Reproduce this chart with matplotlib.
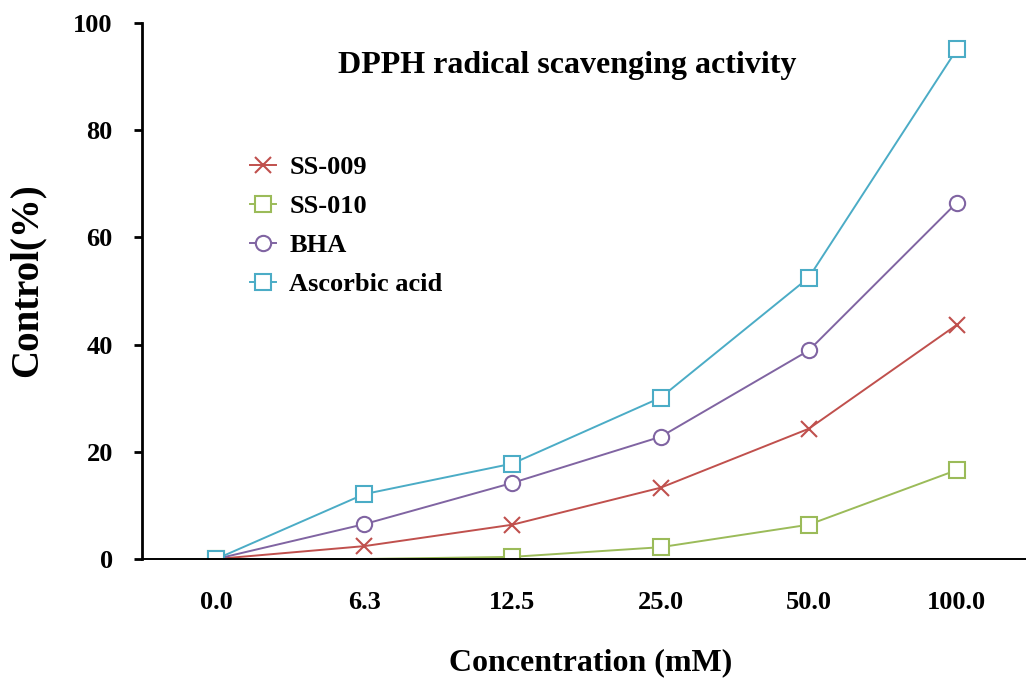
import numpy as np
import matplotlib
matplotlib.use("Agg")
import matplotlib.pyplot as plt

# data
conc_labels = ["0.0", "6.3", "12.5", "25.0", "50.0", "100.0"]
ss009 = [0, 2.4, 6.4, 13.3, 24.3, 43.7]
ss010 = [0, 0, 0.4, 2.2, 6.4, 16.6]
bha = [0, 6.5, 14.2, 22.8, 38.9, 66.5]
ascorbic = [0, 12.1, 17.8, 30.1, 52.5, 95.1]

plt.rcParams['font.family'] = ['Liberation Serif', 'DejaVu Serif']
plt.rcParams['font.weight'] = 'bold'

W, H = 1026, 679
fig = plt.figure(figsize=(W / 100, H / 100), dpi=100)
ax = fig.add_axes([142 / W, 1 - 559 / H, (1031 - 142) / W, (559 - 23) / H])

x = np.arange(len(conc_labels))
lw = 1.4
ax.plot(x, ss009, "-x", color="#C0504D", lw=lw, ms=11, mew=1.5, label="SS-009")
# no marker drawn for SS-010 at 6.3 in the original
ax.plot(x, ss010, "-s", color="#9BBB59", lw=lw, ms=11, mew=1.5, mfc="white",
        markevery=[0, 2, 3, 4, 5], label="SS-010")
ax.plot(x, bha, "-o", color="#8064A2", lw=lw, ms=11, mew=1.5, mfc="white", label="BHA")
ax.plot(x, ascorbic, "-s", color="#4BACC6", lw=lw, ms=11, mew=1.5, mfc="white",
        label="Ascorbic acid")

ax.set_xlim(-0.5, 5.5)
ax.set_ylim(0, 100)
ax.set_yticks([0, 20, 40, 60, 80, 100])
ax.set_xticks(x)
ax.set_xticklabels(conc_labels)
ax.tick_params(axis="y", direction="out", length=6, width=2, labelsize=19, pad=15)
ax.tick_params(axis="x", length=0, labelsize=19, pad=23)
for lab in ax.get_xticklabels() + ax.get_yticklabels():
    lab.set_fontweight("bold")

ax.spines["top"].set_visible(False)
ax.spines["right"].set_visible(False)
ax.spines["left"].set_linewidth(2)
ax.spines["bottom"].set_linewidth(1.4)

ax.set_ylabel("Control(%)", fontsize=28, fontweight="bold")
ax.yaxis.set_label_coords(-0.108, 0.52)
ax.set_xlabel("Concentration (mM)", fontsize=23, fontweight="bold")
ax.xaxis.set_label_coords(0.505, -0.166)

fig.text(567 / W, 1 - 66 / H, "DPPH radical scavenging activity", fontsize=23,
         fontweight="bold", ha="center", va="center")

leg = ax.legend(loc="upper left", bbox_to_anchor=(0.121, 0.753), frameon=False,
                fontsize=19, handlelength=1.0, handletextpad=0.5, labelspacing=0.59,
                borderaxespad=0, borderpad=0)
for t in leg.get_texts():
    t.set_fontweight("bold")

fig.savefig("out.png", dpi=100)
